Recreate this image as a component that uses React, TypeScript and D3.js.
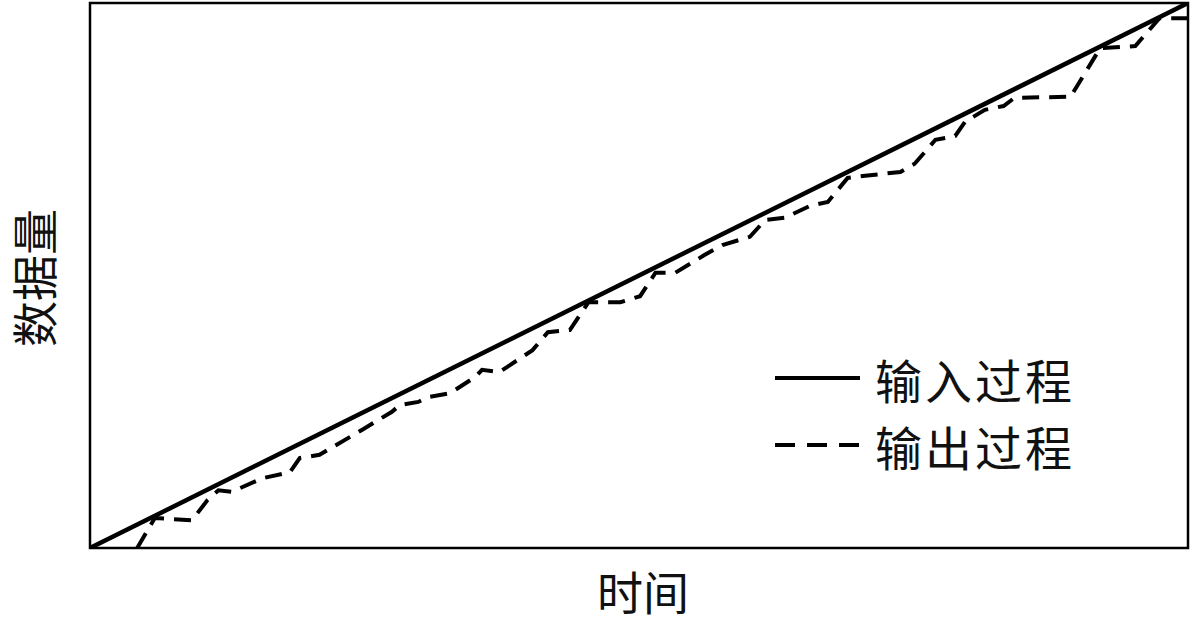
import React from "react";
import * as d3 from "d3";

const inputX = [0, 100];
const inputY = [0, 100];

const outputX = [4.3, 5.9, 9.3, 10.7, 11.7, 12.9, 15.7, 18.2, 19.1, 20.9, 23.7, 24.8, 27.5, 28.2, 29.9, 30.8, 32.8, 35.1, 35.7, 37.3, 40.3, 41.7, 43.7, 45.4, 48.3, 50.1, 51.5, 53.3, 56.0, 57.6, 60.1, 61.5, 63.3, 65.6, 67.2, 69.0, 70.6, 73.8, 75.1, 77.0, 78.8, 79.7, 81.5, 83.2, 84.2, 89.3, 92.0, 95.2, 97.4, 100];
const outputY = [0, 5.5, 5.1, 8.8, 10.6, 10.3, 12.8, 13.9, 16.5, 17.1, 20.4, 21.7, 25.0, 26.2, 26.8, 27.7, 28.4, 31.4, 32.7, 32.3, 36.3, 39.6, 40.0, 45.1, 45.1, 46.2, 50.5, 50.5, 53.8, 55.6, 57.1, 60.2, 60.6, 62.8, 63.5, 67.9, 68.3, 69.0, 70.5, 74.9, 75.6, 78.2, 80.4, 81.1, 82.6, 82.8, 91.7, 92.1, 97.2, 97.2];

const legendLabels = ["输入过程", "输出过程"];
const xLabel = "时间";
const yLabel = "数据量";

export default function App() {
  const W = 1200, H = 628;
  const left = 90, right = 1188, top = 3, bottom = 548;
  const x = d3.scaleLinear().domain([0, 100]).range([left, right]);
  const y = d3.scaleLinear().domain([0, 100]).range([bottom, top]);
  const line = d3.line<[number, number]>().x(d => x(d[0])).y(d => y(d[1]));
  const inPts = inputX.map((v, i) => [v, inputY[i]] as [number, number]);
  const outPts = outputX.map((v, i) => [v, outputY[i]] as [number, number]);
  const font = "'Noto Sans CJK SC', sans-serif";
  return (
    <svg width={W} height={H} style={{ position: "absolute", left: 0, top: 0, background: "#fff" }}>
      <rect x={0} y={0} width={W} height={H} fill="#fff" />
      <defs>
        <clipPath id="plot">
          <rect x={left} y={top} width={right - left} height={bottom - top} />
        </clipPath>
      </defs>
      <g clipPath="url(#plot)">
        <path d={line(outPts) || ""} fill="none" stroke="#000" strokeWidth={4} strokeDasharray="17 10" />
        <path d={line(inPts) || ""} fill="none" stroke="#000" strokeWidth={4.5} />
      </g>
      <rect x={left} y={top} width={right - left} height={bottom - top} fill="none" stroke="#000" strokeWidth={2.5} />
      <g fontFamily={font} fill="#111">
        <line x1={775} x2={860} y1={378} y2={378} stroke="#000" strokeWidth={4} />
        <text x={875} y={378} fontSize={47} letterSpacing={3} dominantBaseline="central">{legendLabels[0]}</text>
        <line x1={775} x2={860} y1={445} y2={445} stroke="#000" strokeWidth={4} strokeDasharray="20 12" />
        <text x={875} y={445} fontSize={47} letterSpacing={3} dominantBaseline="central">{legendLabels[1]}</text>
        <text x={643} y={590} fontSize={46} textAnchor="middle" dominantBaseline="central">{xLabel}</text>
        <text transform="translate(32,278) rotate(-90)" fontSize={46} textAnchor="middle" dominantBaseline="central">{yLabel}</text>
      </g>
    </svg>
  );
}
